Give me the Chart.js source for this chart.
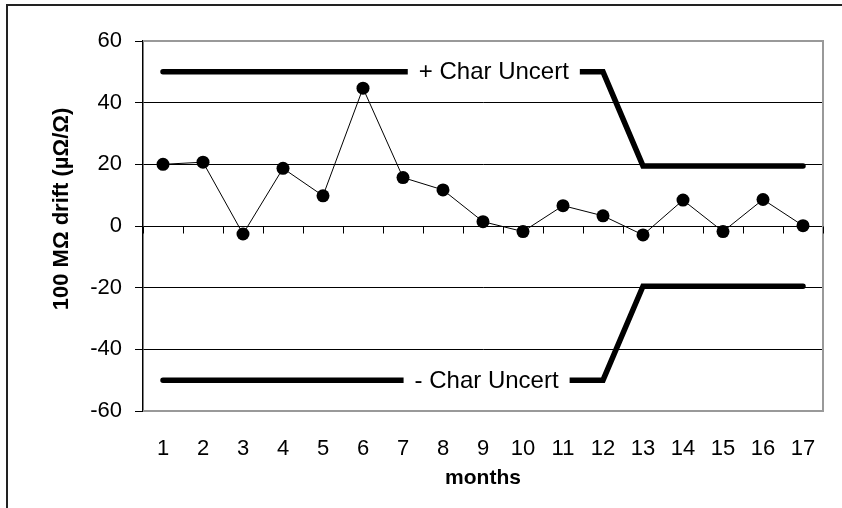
<!DOCTYPE html>
<html>
<head>
<meta charset="utf-8">
<script src="https://cdn.jsdelivr.net/npm/chart.js@4"></script>
<style>
  html, body { margin: 0; padding: 0; background: #fff; overflow: hidden; }
  #wrap { width: 842px; height: 508px; }
</style>
</head>
<body>
<div id="wrap"><canvas id="driftChart" width="842" height="508"></canvas></div>
<script>
// Chart data
const months = ['1', '2', '3', '4', '5', '6', '7', '8', '9', '10', '11', '12', '13', '14', '15', '16', '17'];
const drift = [20, 20.7, -2.6, 18.7, 9.8, 44.7, 15.7, 11.7, 1.4, -1.8, 6.6, 3.3, -2.9, 8.4, -1.8, 8.6, 0.1];
const plusUncert = [50, 50, 50, 50, 50, 50, 50, 50, 50, 50, 50, 50, 19.5, 19.5, 19.5, 19.5, 19.5];
const minusUncert = [-50, -50, -50, -50, -50, -50, -50, -50, -50, -50, -50, -50, -19.5, -19.5, -19.5, -19.5, -19.5];
const yTicks = [-60, -40, -20, 0, 20, 40, 60];

const FONT = "'Liberation Sans', Arial, sans-serif";

/**
 * Frame, plot border, zero line ticks, line labels and y title
 */
const decorations = {
    id: 'decorations',
    beforeDatasetsDraw(chart) {
        const { ctx, chartArea: a, scales: { x, y } } = chart;
        ctx.save();

        // outer frame (only top/left visible)
        ctx.strokeStyle = '#222';
        ctx.lineWidth = 2;
        ctx.beginPath();
        ctx.moveTo(7, 600);
        ctx.lineTo(7, 5);
        ctx.lineTo(900, 5);
        ctx.stroke();

        // gray plot border: top, right, bottom
        ctx.strokeStyle = '#999';
        ctx.lineWidth = 2;
        ctx.beginPath();
        ctx.moveTo(a.left, a.top);
        ctx.lineTo(a.right, a.top);
        ctx.lineTo(a.right, a.bottom);
        ctx.lineTo(a.left, a.bottom);
        ctx.stroke();

        // category ticks hanging below the zero line
        const y0 = Math.round(y.getPixelForValue(0)) + 0.5;
        ctx.strokeStyle = '#000';
        ctx.lineWidth = 1;
        ctx.beginPath();
        for (let i = 0; i <= months.length; i++) {
            const px = Math.round(x.getPixelForValue(i - 0.5)) + 0.5;
            ctx.moveTo(px, y0);
            ctx.lineTo(px, y0 + 7);
        }
        ctx.stroke();
        ctx.restore();
    },
    afterDatasetsDraw(chart) {
        const { ctx, scales: { x, y } } = chart;
        ctx.save();

        // labels sitting on the uncertainty lines
        const labels = [
            { text: '+ Char Uncert', at: 8.27, value: plusUncert[0] },
            { text: '- Char Uncert', at: 8.09, value: minusUncert[0] }
        ];
        ctx.font = '24px ' + FONT;
        ctx.textAlign = 'center';
        ctx.textBaseline = 'middle';
        labels.forEach(l => {
            const cx = x.getPixelForValue(l.at);
            const cy = y.getPixelForValue(l.value);
            const w = ctx.measureText(l.text).width;
            ctx.fillStyle = '#fff';
            ctx.fillRect(cx - w / 2 - 11, cy - 8, w + 22, 16);
            ctx.fillStyle = '#000';
            ctx.fillText(l.text, cx, cy + 1);
        });

        // y axis title
        ctx.font = 'bold 22px ' + FONT;
        ctx.translate(62, 209);
        ctx.rotate(-Math.PI / 2);
        ctx.fillText('100 M\u03A9 drift (\u00B5\u03A9/\u03A9)', 0, 0);
        ctx.restore();
    }
};

const ctx = document.getElementById('driftChart');

new Chart(ctx, {
    type: 'line',
    data: {
        labels: months,
        datasets: [
            {
                label: 'drift',
                data: drift,
                borderColor: '#000',
                backgroundColor: '#000',
                borderWidth: 1,
                pointRadius: 6.5,
                pointBorderWidth: 0,
                tension: 0
            },
            {
                label: '+ Char Uncert',
                data: plusUncert,
                borderColor: '#000',
                borderWidth: 5.5,
                borderCapStyle: 'round',
                borderJoinStyle: 'miter',
                pointRadius: 0,
                tension: 0
            },
            {
                label: '- Char Uncert',
                data: minusUncert,
                borderColor: '#000',
                borderWidth: 5.5,
                borderCapStyle: 'round',
                borderJoinStyle: 'miter',
                pointRadius: 0,
                tension: 0
            }
        ]
    },
    options: {
        responsive: false,
        animation: false,
        layout: {
            padding: { left: 0, top: 41, right: 19, bottom: 0 }
        },
        plugins: {
            legend: { display: false },
            tooltip: { enabled: false }
        },
        scales: {
            x: {
                offset: true,
                grid: { display: false, drawTicks: false },
                border: { display: false },
                ticks: {
                    color: '#000',
                    padding: 25,
                    maxRotation: 0,
                    autoSkip: false,
                    font: { family: FONT, size: 22 }
                },
                title: {
                    display: true,
                    text: 'months',
                    color: '#000',
                    padding: { top: 0, bottom: 17 },
                    font: { family: FONT, size: 21, weight: 'bold' }
                },
                afterFit(scale) { scale.height = 97; }
            },
            y: {
                min: -60,
                max: 60,
                afterBuildTicks(scale) {
                    scale.ticks = yTicks.map(v => ({ value: v }));
                },
                grid: {
                    color: (c) => (c.tick && Math.abs(c.tick.value) === 60) ? 'rgba(0,0,0,0)' : '#000',
                    tickColor: '#000',
                    lineWidth: 1,
                    tickLength: 8
                },
                border: { display: true, color: '#000', width: 1.5 },
                ticks: {
                    color: '#000',
                    padding: 13,
                    font: { family: FONT, size: 22 }
                },
                afterFit(scale) { scale.width = 143; }
            }
        }
    },
    plugins: [decorations]
});
</script>
</body>
</html>
